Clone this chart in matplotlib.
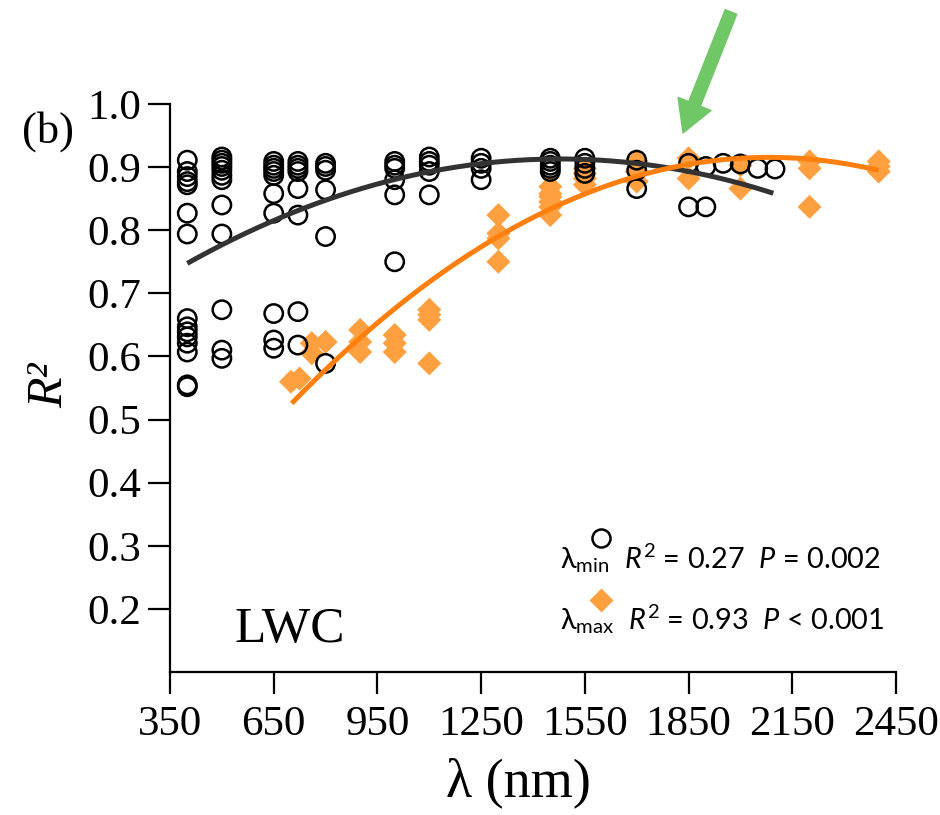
import numpy as np
import matplotlib
matplotlib.use("Agg")
import matplotlib.pyplot as plt

# ---------------- data ----------------
# lambda_min (open circles): wavelength -> R2 values
min_wl = [400]*15 + [500]*12 + [650]*10 + [720]*8 + [800]*6 + [1000]*6 + [1100]*5 + \
         [1250]*4 + [1450]*5 + [1550]*4 + [1700]*3 + [1850]*2 + [1900]*2 + [1950] + [2000] + [2050] + [2100]
min_r2 = [0.911, 0.893, 0.885, 0.877, 0.872, 0.827, 0.794, 0.660, 0.647, 0.639, 0.631, 0.621, 0.607, 0.555, 0.552,
          0.916, 0.911, 0.906, 0.901, 0.895, 0.887, 0.880, 0.840, 0.794, 0.674, 0.610, 0.597,
          0.909, 0.903, 0.898, 0.893, 0.887, 0.858, 0.827, 0.668, 0.626, 0.613,
          0.909, 0.903, 0.898, 0.893, 0.866, 0.824, 0.671, 0.618,
          0.906, 0.901, 0.895, 0.864, 0.790, 0.589,
          0.909, 0.903, 0.898, 0.880, 0.856, 0.750,
          0.916, 0.909, 0.903, 0.893, 0.856,
          0.914, 0.906, 0.898, 0.880,
          0.914, 0.909, 0.903, 0.898, 0.893,
          0.914, 0.906, 0.898, 0.890,
          0.911, 0.895, 0.866,
          0.906, 0.837,
          0.901, 0.837,
          0.906, 0.905, 0.898, 0.897]

# lambda_max (orange diamonds)
max_wl = [700, 725, 760, 760, 800, 900, 900, 900, 1000, 1000, 1000, 1100, 1100, 1100, 1100,
          1300, 1300, 1300, 1300, 1450, 1450, 1450, 1450, 1450, 1450, 1550, 1550, 1550, 1550,
          1700, 1700, 1700, 1850, 1850, 2000, 2000, 2200, 2200, 2200, 2400, 2400, 2400]
max_r2 = [0.560, 0.565, 0.621, 0.605, 0.623, 0.642, 0.623, 0.607, 0.634, 0.621, 0.607,
          0.674, 0.666, 0.658, 0.589,
          0.824, 0.795, 0.787, 0.750,
          0.869, 0.858, 0.853, 0.845, 0.837, 0.824,
          0.898, 0.890, 0.882, 0.872,
          0.909, 0.893, 0.877,
          0.914, 0.882,
          0.903, 0.866,
          0.909, 0.898, 0.837,
          0.909, 0.901, 0.893]

# fitted trend curves
min_curve_wl = [400, 717, 998, 1250, 1450, 1700, 1850, 2095]
min_curve_r2 = [0.748, 0.827, 0.885, 0.906, 0.911, 0.903, 0.895, 0.859]
max_curve_wl = [702, 1015, 1297, 1450, 1651, 1850, 2000, 2200, 2400]
max_curve_r2 = [0.526, 0.679, 0.790, 0.837, 0.885, 0.897, 0.909, 0.914, 0.897]

x_ticks = [350, 650, 950, 1250, 1550, 1850, 2150, 2450]
y_ticks = [0.2, 0.3, 0.4, 0.5, 0.6, 0.7, 0.8, 0.9, 1.0]

# ---------------- figure ----------------
serif = ['Liberation Serif', 'DejaVu Serif']
sans = ['Lato', 'DejaVu Sans']
plt.rcParams['mathtext.fontset'] = 'custom'
plt.rcParams['mathtext.rm'] = 'Lato'
plt.rcParams['mathtext.it'] = 'Lato:italic'

fig = plt.figure(figsize=(9.4, 8.15), dpi=100)
ax = fig.add_axes([170/940, 1 - 672/815, (896-170)/940, (672-104)/815])

ax.scatter(min_wl, min_r2, s=175, facecolors='none', edgecolors='black', linewidths=1.8, zorder=3)
ax.scatter(max_wl, max_r2, s=150, marker='D', color='#ffa040', edgecolors='none', zorder=2)

xs = np.linspace(min(min_curve_wl), max(min_curve_wl), 200)
cmin = np.polyfit(min_curve_wl, min_curve_r2, 2)
ax.plot(xs, np.polyval(cmin, xs), color='#333333', lw=3.6, zorder=4, solid_capstyle='butt')
xs2 = np.linspace(min(max_curve_wl), max(max_curve_wl), 200)
cmax = np.polyfit(max_curve_wl, max_curve_r2, 2)
ax.plot(xs2, np.polyval(cmax, xs2), color='#ff7f0e', lw=3.6, zorder=5, solid_capstyle='butt')

ax.set_xlim(350, 2450)
ax.set_ylim(0.1, 1.0)
ax.set_xticks(x_ticks)
ax.set_yticks(y_ticks)
ax.set_xticklabels([str(v) for v in x_ticks])
ax.set_yticklabels([f"{v:.1f}" for v in y_ticks])
for s in ['top', 'right']:
    ax.spines[s].set_visible(False)
for s in ['left', 'bottom']:
    ax.spines[s].set_linewidth(1.6)
ax.tick_params(direction='out', length=16, width=1.6, labelsize=31, pad=5)
ax.tick_params(axis='x', pad=8)
for lab in ax.get_xticklabels() + ax.get_yticklabels():
    lab.set_fontfamily(serif)
for c in ax.collections:
    c.set_clip_on(False)

ax.set_xlabel('λ (nm)', fontsize=39, family=serif)
ax.xaxis.set_label_coords((518 - 170) / 726, -(808 - 672) / 568)
ax.xaxis.label.set_va('bottom')
ax.set_ylabel('R²', fontsize=36, family=serif, style='italic')
ax.yaxis.set_label_coords(-(170 - 50) / 726, (672 - 385) / 568)
ax.yaxis.label.set_va('center')

fig.text(22/940, 1 - 132/815, '(b)', fontsize=32, family=serif, va='center')
ax.text(538, 0.147, 'LWC', fontsize=37, family=serif, va='baseline')

# legend block
ax.plot([0.594], [0.236], transform=ax.transAxes, marker='o', ms=13, mfc='none', mec='black', mew=1.8, clip_on=False)
ax.plot([0.594], [0.127], transform=ax.transAxes, marker='D', ms=12, color='#ffa040', mec='none', clip_on=False)
ax.text(0.537, 0.183, r'λ$_{\mathrm{min}}$  $\mathit{R}^{2}$ = 0.27  $\mathit{P}$ = 0.002', transform=ax.transAxes,
        fontsize=20.8, family=sans, va='baseline')
ax.text(0.537, 0.074, r'λ$_{\mathrm{max}}$  $\mathit{R}^{2}$ = 0.93  $\mathit{P}$ < 0.001', transform=ax.transAxes,
        fontsize=20.8, family=sans, va='baseline')

# green arrow
ax.annotate('', xy=(683/940, 1 - 133/815), xycoords='figure fraction',
            xytext=(731/940, 1 - 12/815), textcoords='figure fraction',
            arrowprops=dict(arrowstyle='simple,head_length=1.5,head_width=1.7,tail_width=0.6',
                            color='#70c765', mutation_scale=15, shrinkA=0, shrinkB=0))

fig.savefig('out.png', dpi=100)
